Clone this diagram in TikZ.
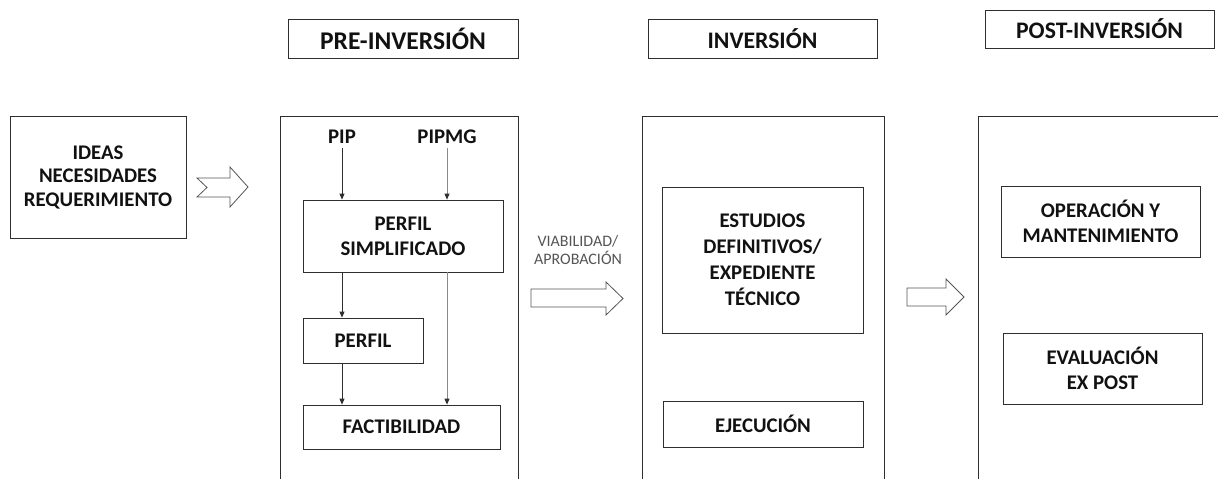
\documentclass[tikz,border=0pt]{standalone}
\usepackage{fontspec}
\setmainfont{Carlito}
\usetikzlibrary{arrows.meta}
\definecolor{ink}{HTML}{111111}
\definecolor{edge}{HTML}{2E2E2E}
\definecolor{soft}{HTML}{8A8A8A}
\definecolor{note}{HTML}{555555}
\begin{document}
\begin{tikzpicture}[x=1pt,y=-1pt,
  box/.style={draw=edge, line width=0.8pt, inner sep=0pt, align=center, text=ink,
    font=\bfseries\fontsize{20.8}{25}\selectfont},
  headbox/.style={box, font=\bfseries\fontsize{23.7}{28}\selectfont},
  lbl/.style={inner sep=0pt, text=ink, font=\bfseries\fontsize{20.8}{25}\selectfont},
  notelbl/.style={inner sep=0pt, align=center, text=note, font=\fontsize{16}{18}\selectfont},
  arr/.style={line width=0.8pt, draw=edge, -{Triangle[width=5pt,length=6pt]}},
  arrg/.style={line width=0.8pt, draw=soft, -{Triangle[width=5pt,length=6pt,fill=edge,color=edge]}},
  hollow/.style={draw=note, line width=0.8pt, fill=white, line join=miter},
  framebox/.style={draw=edge, line width=0.8pt}]
\useasboundingbox (0,0) rectangle (1218,479);

% headers
\node[headbox, font=\bfseries\fontsize{25.5}{28}\selectfont, minimum width=230pt, minimum height=39pt] (hpre) at (403,38.5) {PRE-INVERSIÓN};
\node[headbox, minimum width=229pt, minimum height=39pt] (hinv) at (762.5,38.5) {INVERSIÓN};
\node[headbox, minimum width=229pt, minimum height=38pt] (hpost) at (1099.5,29) {POST-INVERSIÓN};

% phase frames (open at the bottom)
\draw[framebox] (280,479) -- (280,116) -- (518,116) -- (518,479);
\draw[framebox] (642,479) -- (642,116) -- (884,116) -- (884,479);
\draw[framebox] (978,479) -- (978,116) -- (1218,116);

% ideas
\node[box, font=\bfseries\fontsize{20.8}{23.5}\selectfont, minimum width=176pt, minimum height=122pt] (ideas) at (98,177) {IDEAS\\NECESIDADES\\REQUERIMIENTO};

% pre-inversion
\node[lbl] (pip) at (342,137) {PIP};
\node[lbl] (pipmg) at (447,137) {PIPMG};
\node[box, minimum width=200pt, minimum height=72pt] (ps) at (403,236) {PERFIL\\SIMPLIFICADO};
\node[box, minimum width=120pt, minimum height=45pt] (perfil) at (363,340.5) {PERFIL};
\node[box, minimum width=197pt, minimum height=44pt] (fact) at (401.5,427) {FACTIBILIDAD};

\draw[arr] ([yshift=-4pt]pip.south) -- (ps.north -| pip);
\draw[arrg] ([yshift=-4pt]pipmg.south) -- (ps.north -| pipmg);
\draw[arr] (ps.south -| pip) -- (perfil.north -| pip);
\draw[arr] (perfil.south -| pip) -- (fact.north -| pip);
\draw[arrg] (ps.south -| pipmg) -- (fact.north -| pipmg);

% note
\node[notelbl] (via) at (578,250) {VIABILIDAD/\\APROBACIÓN};

% inversion
\node[box, font=\bfseries\fontsize{20.8}{26}\selectfont, minimum width=201pt, minimum height=146pt] (est) at (762.5,260) {ESTUDIOS\\DEFINITIVOS/\\EXPEDIENTE\\TÉCNICO};
\node[box, minimum width=200pt, minimum height=46pt] (ejec) at (763,424) {EJECUCIÓN};

% post-inversion
\node[box, minimum width=199pt, minimum height=71pt] (oper) at (1100.5,221.5) {OPERACIÓN Y\\MANTENIMIENTO};
\node[box, minimum width=199pt, minimum height=71pt] (eval) at (1102.5,368.5) {EVALUACIÓN\\EX POST};

% hollow block arrows
\draw[hollow] (197,178) -- (230,178) -- (230,167) -- (248,187) -- (230,207) -- (230,197) -- (197,197) -- (207,187.5) -- cycle;
\draw[hollow] (531,289) -- (606,289) -- (606,282) -- (623,298.5) -- (606,315) -- (606,307) -- (531,307) -- cycle;
\draw[hollow] (907,288) -- (946,288) -- (946,279) -- (964,297) -- (946,315) -- (946,306) -- (907,306) -- cycle;
\end{tikzpicture}
\end{document}
